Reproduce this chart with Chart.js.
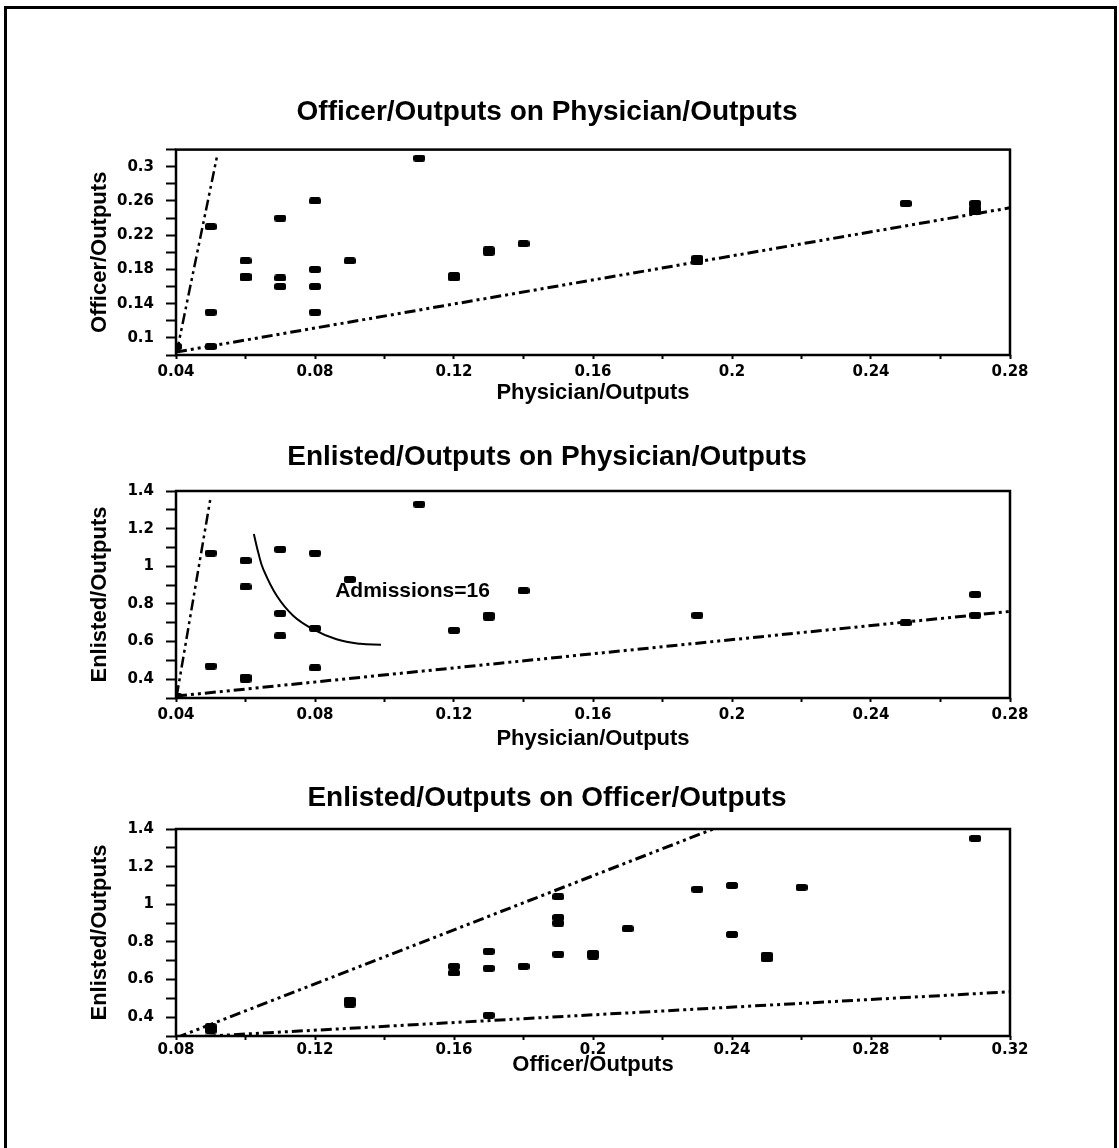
<!DOCTYPE html>
<html>
<head>
<meta charset="utf-8">
<title>Outputs ratios</title>
<script src="https://cdn.jsdelivr.net/npm/chart.js@4.4.1/dist/chart.umd.min.js"></script>
<style>
  body { margin: 0; background: #fff; width: 1119px; height: 1148px; overflow: hidden; position: relative; }
  #frame { position: absolute; left: 4px; top: 6px; width: 1107px; height: 1160px; border: 3px solid #000; }
  canvas { position: absolute; left: 0; }
</style>
</head>
<body>
<div id="frame"></div>
<canvas id="chartOfficer" width="1119" height="327" style="top:80px"></canvas>
<canvas id="chartEnlisted" width="1119" height="333" style="top:420px"></canvas>
<canvas id="chartEnlistedOfficer" width="1119" height="319" style="top:760px"></canvas>
<script>
// Officer/Outputs on Physician/Outputs
const physicianA = [0.04, 0.05, 0.05, 0.05, 0.06, 0.06, 0.06, 0.07, 0.07, 0.07, 0.08, 0.08, 0.08, 0.08, 0.09, 0.11, 0.12, 0.12, 0.13, 0.13, 0.14, 0.19, 0.19, 0.25, 0.27, 0.27, 0.27];
const officerA   = [0.09, 0.23, 0.13, 0.09, 0.19, 0.17, 0.172, 0.24, 0.17, 0.16, 0.26, 0.18, 0.16, 0.13, 0.19, 0.31, 0.17, 0.173, 0.20, 0.203, 0.21, 0.189, 0.193, 0.257, 0.257, 0.248, 0.251];

// Enlisted/Outputs on Physician/Outputs
const physicianB = [0.04, 0.05, 0.05, 0.06, 0.06, 0.06, 0.06, 0.07, 0.07, 0.07, 0.08, 0.08, 0.08, 0.09, 0.11, 0.12, 0.13, 0.13, 0.14, 0.19, 0.25, 0.27, 0.27];
const enlistedB  = [0.31, 1.07, 0.47, 1.03, 0.89, 0.40, 0.41, 1.09, 0.75, 0.63, 1.07, 0.67, 0.46, 0.93, 1.33, 0.66, 0.73, 0.74, 0.87, 0.74, 0.70, 0.85, 0.74];

// Enlisted/Outputs on Officer/Outputs
const officerC  = [0.09, 0.09, 0.13, 0.13, 0.16, 0.16, 0.17, 0.17, 0.17, 0.18, 0.19, 0.19, 0.19, 0.19, 0.2, 0.2, 0.21, 0.23, 0.24, 0.24, 0.25, 0.25, 0.26, 0.31];
const enlistedC = [0.33, 0.35, 0.47, 0.49, 0.67, 0.635, 0.75, 0.66, 0.41, 0.67, 1.04, 0.93, 0.90, 0.735, 0.74, 0.725, 0.87, 1.08, 1.10, 0.84, 0.73, 0.71, 1.09, 1.35];

// bounding lines (end points)
const lineA1x = [0.0402, 0.0518], lineA1y = [0.083, 0.312];
const lineA2x = [0.04, 0.28],     lineA2y = [0.0834, 0.252];
const lineB1x = [0.0402, 0.0500], lineB1y = [0.31, 1.37];
const lineB2x = [0.04, 0.28],     lineB2y = [0.31, 0.76];
const lineC1x = [0.08, 0.2346],   lineC1y = [0.29, 1.40];
const lineC2x = [0.08, 0.32],     lineC2y = [0.29, 0.535];

// Admissions=16 curve
const admX = [0.0624, 0.0637, 0.0651, 0.069, 0.0738, 0.0795, 0.0862, 0.093, 0.099];
const admY = [1.171, 1.07, 0.985, 0.843, 0.736, 0.665, 0.612, 0.588, 0.583];
const admLabel = { text: 'Admissions=16', x: 0.0858, y: 0.87 };

// tick labels
const physicianTicks = [0.04, 0.08, 0.12, 0.16, 0.2, 0.24, 0.28];
const officerTicksY  = [0.1, 0.14, 0.18, 0.22, 0.26, 0.3];
const officerTicksX  = [0.08, 0.12, 0.16, 0.2, 0.24, 0.28, 0.32];
const enlistedTicks  = [0.4, 0.6, 0.8, 1, 1.2, 1.4];

const round = v => Math.round(v * 1000) / 1000;
const zip = (xs, ys) => xs.map((x, i) => ({ x: x, y: ys[i] }));

function tickValues(min, max, step) {
  let out = [];
  for (let i = 0; min + i * step <= max + 1e-9; i++) out.push({ value: round(min + i * step) });
  return out;
}

// little bar used for every data point
const mark = document.createElement('canvas');
mark.width = 12;
mark.height = 7;
const mctx = mark.getContext('2d');
mctx.fillStyle = '#000';
mctx.beginPath();
mctx.roundRect(0, 0, 12, 7, 2.5);
mctx.fill();

const titleFont = { family: '"Liberation Sans", Arial, sans-serif', size: 28, weight: 'bold' };
const axisFont = { family: '"Liberation Sans", Arial, sans-serif', size: 22, weight: 'bold' };
const tickFont = { family: '"DejaVu Sans", sans-serif', size: 15, weight: 'bold' };
const dashDotDot = [11, 4, 3, 4, 3, 4];

// box round the plot area
const plotBox = {
  id: 'plotBox',
  afterDraw(chart) {
    const a = chart.chartArea;
    const ctx = chart.ctx;
    ctx.save();
    ctx.strokeStyle = '#000';
    ctx.lineWidth = 2.5;
    ctx.strokeRect(a.left, a.top, a.right - a.left, a.bottom - a.top);
    ctx.restore();
  }
};

const admPlugin = {
  id: 'admLabel',
  afterDatasetsDraw(chart) {
    const ctx = chart.ctx;
    ctx.save();
    ctx.font = 'bold 21px "Liberation Sans", Arial, sans-serif';
    ctx.fillStyle = '#000';
    ctx.textBaseline = 'middle';
    ctx.fillText(admLabel.text, chart.scales.x.getPixelForValue(admLabel.x), chart.scales.y.getPixelForValue(admLabel.y));
    ctx.restore();
  }
};

function xAxis(min, max, labels, text, height, pad) {
  return {
    type: 'linear', min: min, max: max,
    afterBuildTicks: s => { s.ticks = tickValues(min, max, 0.02); },
    afterFit: s => { s.height = height; },
    ticks: {
      autoSkip: false, maxRotation: 0, padding: pad, color: '#000', font: tickFont,
      callback: v => labels.includes(round(v)) ? String(round(v)) : ''
    },
    grid: { drawOnChartArea: false, tickLength: 4, tickWidth: 2, tickColor: '#000' },
    border: { display: false },
    title: { display: true, text: text, color: '#000', font: axisFont, padding: { top: 0, bottom: 1 } }
  };
}

function yAxis(min, max, step, labels, text) {
  return {
    type: 'linear', min: min, max: max,
    afterBuildTicks: s => { s.ticks = tickValues(min, max, step); },
    afterFit: s => { s.width = 92; },
    ticks: {
      autoSkip: false, padding: 12, color: '#000', font: tickFont,
      callback: v => labels.includes(round(v)) ? String(round(v)) : ''
    },
    grid: { drawOnChartArea: false, tickLength: 10, tickWidth: 2, tickColor: '#000' },
    border: { display: false },
    title: { display: true, text: text, color: '#000', font: axisFont, padding: { top: 3, bottom: 0 } }
  };
}

function points(xs, ys) {
  return { data: zip(xs, ys), pointStyle: mark, pointRadius: 6, showLine: false };
}

function boundLine(xs, ys, width) {
  return {
    data: zip(xs, ys), showLine: true, pointRadius: 0,
    borderColor: '#000', borderWidth: width, borderDash: dashDotDot
  };
}

function makeChart(id, datasets, title, titlePad, scales, extraPlugins) {
  return new Chart(document.getElementById(id), {
    type: 'scatter',
    data: { datasets: datasets },
    options: {
      responsive: false,
      animation: false,
      devicePixelRatio: 1,
      layout: { padding: { left: 84, right: 109, top: 0, bottom: 0 } },
      scales: scales,
      plugins: {
        legend: { display: false },
        tooltip: { enabled: false },
        title: { display: true, text: title, color: '#000', font: titleFont, padding: titlePad }
      }
    },
    plugins: [plotBox].concat(extraPlugins || [])
  });
}

makeChart('chartOfficer',
  [boundLine(lineA1x, lineA1y, 2.5), boundLine(lineA2x, lineA2y, 3), points(physicianA, officerA)],
  'Officer/Outputs on Physician/Outputs', { top: 15, bottom: 21 },
  {
    x: xAxis(0.04, 0.28, physicianTicks, 'Physician/Outputs', 52, 4),
    y: yAxis(0.08, 0.32, 0.02, officerTicksY, 'Officer/Outputs')
  });

makeChart('chartEnlisted',
  [
    boundLine(lineB1x, lineB1y, 2.5), boundLine(lineB2x, lineB2y, 3),
    { data: zip(admX, admY), showLine: true, pointRadius: 0, borderColor: '#000', borderWidth: 2, tension: 0.4 },
    points(physicianB, enlistedB)
  ],
  'Enlisted/Outputs on Physician/Outputs', { top: 20, bottom: 17.4 },
  {
    x: xAxis(0.04, 0.28, physicianTicks, 'Physician/Outputs', 55, 4),
    y: yAxis(0.3, 1.4, 0.1, enlistedTicks, 'Enlisted/Outputs')
  },
  [admPlugin]);

makeChart('chartEnlistedOfficer',
  [boundLine(lineC1x, lineC1y, 3), boundLine(lineC2x, lineC2y, 3), points(officerC, enlistedC)],
  'Enlisted/Outputs on Officer/Outputs', { top: 21, bottom: 14.4 },
  {
    x: xAxis(0.08, 0.32, officerTicksX, 'Officer/Outputs', 43, 1),
    y: yAxis(0.3, 1.4, 0.1, enlistedTicks, 'Enlisted/Outputs')
  });
</script>
</body>
</html>
